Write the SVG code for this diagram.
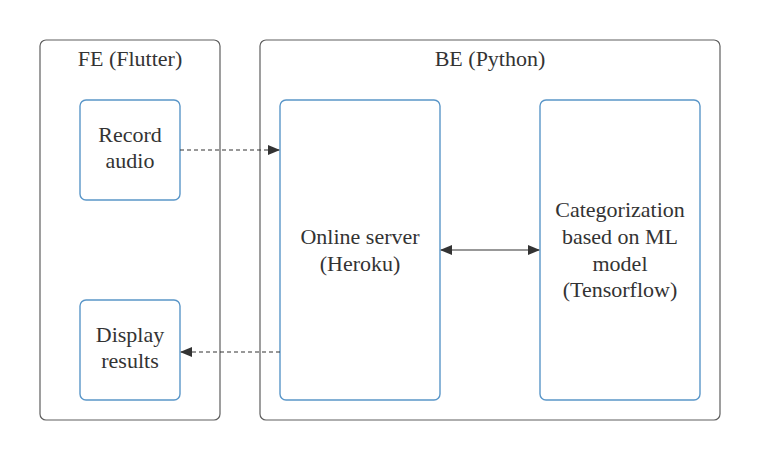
<svg xmlns="http://www.w3.org/2000/svg" width="760" height="460" viewBox="0 0 760 460">
<defs>
<style>
.container{fill:#fff;stroke:#5e5e5e;stroke-width:1.2}
.node{fill:#fff;stroke:#5a96c8;stroke-width:1.4}
.t{font-family:"Liberation Serif",serif;font-size:22px;fill:#333;text-anchor:middle}
.c{stroke:#333;stroke-width:1.2;fill:none}
.d{stroke-dasharray:4 3}
</style>
<marker id="ah" viewBox="0 0 12 10" refX="11" refY="5" markerWidth="12" markerHeight="10" markerUnits="userSpaceOnUse" orient="auto-start-reverse">
<path d="M0,0 L12,5 L0,10 z" fill="#333"/>
</marker>
</defs>
<rect width="760" height="460" fill="#fff"/>
<g id="fe">
<rect class="container" x="40" y="40" width="180" height="380" rx="6"/>
<text class="t" x="130" y="66">FE (Flutter)</text>
</g>
<g id="be">
<rect class="container" x="260" y="40" width="460" height="380" rx="6"/>
<text class="t" x="490" y="66">BE (Python)</text>
</g>
<g id="record">
<rect class="node" x="80" y="100" width="100" height="100" rx="6"/>
<text class="t" x="130" y="142">Record</text>
<text class="t" x="130" y="168">audio</text>
</g>
<g id="display">
<rect class="node" x="80" y="300" width="100" height="100" rx="6"/>
<text class="t" x="130" y="342">Display</text>
<text class="t" x="130" y="368">results</text>
</g>
<g id="server">
<rect class="node" x="280" y="100" width="160" height="300" rx="6"/>
<text class="t" x="360" y="244">Online server</text>
<text class="t" x="360" y="271">(Heroku)</text>
</g>
<g id="ml">
<rect class="node" x="540" y="100" width="160" height="300" rx="6"/>
<text class="t" x="620" y="217">Categorization</text>
<text class="t" x="620" y="244">based on ML</text>
<text class="t" x="620" y="271">model</text>
<text class="t" x="620" y="297">(Tensorflow)</text>
</g>
<g id="connectors">
<line class="c d" x1="180" y1="150" x2="279" y2="150" marker-end="url(#ah)"/>
<line class="c d" x1="280" y1="352" x2="181" y2="352" marker-end="url(#ah)"/>
<line class="c" x1="441" y1="250" x2="539" y2="250" marker-start="url(#ah)" marker-end="url(#ah)"/>
</g>
</svg>
